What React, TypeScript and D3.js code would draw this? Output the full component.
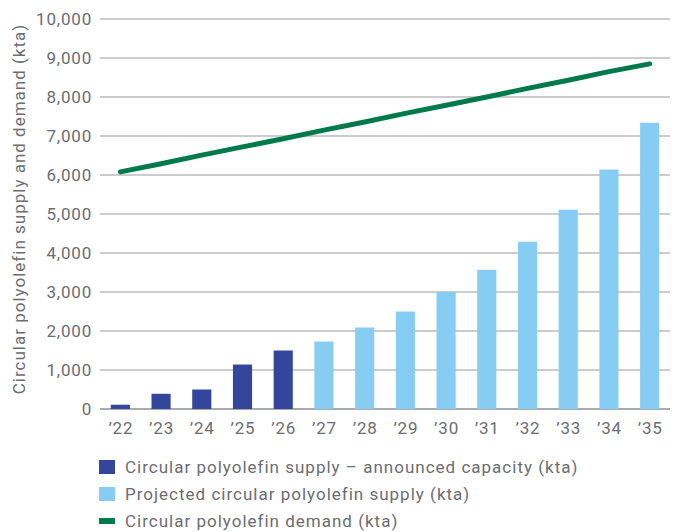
import React from "react";
import * as d3 from "d3";

const years = ["’22", "’23", "’24", "’25", "’26", "’27", "’28", "’29", "’30", "’31", "’32", "’33", "’34", "’35"];
const announced = [110, 390, 500, 1140, 1500, null, null, null, null, null, null, null, null, null];
const projected = [null, null, null, null, null, 1730, 2090, 2500, 3000, 3570, 4290, 5110, 6140, 7340];
const demand = [6080, 6290, 6510, 6720, 6930, 7150, 7360, 7580, 7790, 8000, 8220, 8430, 8650, 8850];
const yTicks = [0, 1000, 2000, 3000, 4000, 5000, 6000, 7000, 8000, 9000, 10000];
const legendLabels = [
  "Circular polyolefin supply – announced capacity (kta)",
  "Projected circular polyolefin supply (kta)",
  "Circular polyolefin demand (kta)",
];
const yTitle = "Circular polyolefin supply and demand (kta)";

const W = 678, H = 532;
const M = { left: 100, right: 8, top: 19, bottom: 123 };
const FONT = "Roboto, 'Open Sans', sans-serif";
const TEXT = "#6b6d70";
const DARK = "#34469c";
const LIGHT = "#87cdf3";
const GREEN = "#007a4c";

export default function App() {
  const x = d3.scaleBand().domain(years).range([M.left, W - M.right]).paddingInner(0.53).paddingOuter(0.265);
  const y = d3.scaleLinear().domain([0, 10000]).range([H - M.bottom, M.top]);
  const fmt = d3.format(",");
  const line = d3
    .line<number>()
    .x((_, i) => (x(years[i]) as number) + x.bandwidth() / 2)
    .y((d) => y(d));

  return (
    <svg width={W} height={H} style={{ position: "absolute", left: 0, top: 0, background: "#fff" }} fontFamily={FONT}>
      {yTicks.map((t) => (
        <g key={t}>
          <line x1={M.left} x2={W - M.right} y1={y(t)} y2={y(t)} stroke={t === 0 ? "#8d9094" : "#b9bbbe"} strokeWidth={t === 0 ? 1.5 : 1.3} />
          <text x={92} y={y(t)} dy="0.36em" textAnchor="end" fontSize={17} letterSpacing={0.8} fill={TEXT}>
            {fmt(t)}
          </text>
        </g>
      ))}
      <text transform={`translate(25,${(M.top + y(0)) / 2 - 5}) rotate(-90)`} textAnchor="middle" fontSize={17} letterSpacing={1} fill={TEXT}>
        {yTitle}
      </text>
      {years.map((yr, i) => {
        const v = announced[i] ?? projected[i];
        const c = announced[i] != null ? DARK : LIGHT;
        return v == null ? null : (
          <rect key={yr} x={x(yr)} width={x.bandwidth()} y={y(v)} height={y(0) - y(v)} fill={c} />
        );
      })}
      <path d={line(demand) || ""} fill="none" stroke={GREEN} strokeWidth={5} strokeLinecap="round" />
      {years.map((yr) => (
        <text key={yr} x={(x(yr) as number) + x.bandwidth() / 2 + 0.5} y={434} textAnchor="middle" fontSize={17} letterSpacing={0.8} fill={TEXT}>
          {yr}
        </text>
      ))}
      <g fontSize={17} letterSpacing={1} fill={TEXT}>
        <rect x={99} y={460} width={16} height={14} fill={DARK} />
        <text x={125} y={473}>{legendLabels[0]}</text>
        <rect x={99} y={487} width={16} height={14} fill={LIGHT} />
        <text x={125} y={500}>{legendLabels[1]}</text>
        <rect x={99} y={518} width={16} height={6} fill={GREEN} />
        <text x={125} y={527}>{legendLabels[2]}</text>
      </g>
    </svg>
  );
}
